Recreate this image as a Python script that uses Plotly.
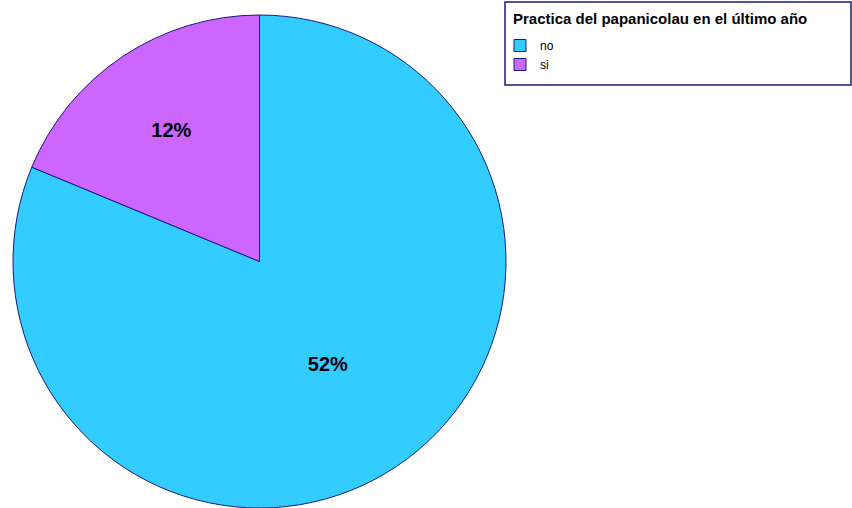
import plotly.graph_objects as go

categories = ["no", "si"]
values = [52, 12]
labels_text = ["52%", "12%"]
colors = ["#33CCFF", "#CC66FF"]
legend_title = "Practica del papanicolau en el último año"

fig = go.Figure(go.Pie(
    labels=categories,
    values=values,
    text=labels_text,
    textinfo="text",
    textposition="inside",
    insidetextorientation="horizontal",
    textfont=dict(family="Liberation Sans, Arial", size=20, color="black", weight="bold"),
    sort=False,
    direction="clockwise",
    rotation=0,
    marker=dict(colors=colors, line=dict(color="#1a1a80", width=1)),
    domain=dict(x=[12/852, 507/852], y=[0, 1-15/508]),
    hoverinfo="label+value",
))

fig.add_shape(type="rect", xref="paper", yref="paper",
              x0=505/852, x1=851/852, y0=1-85/508, y1=1-2/508,
              line=dict(color="#1a1a80", width=1.5), fillcolor="rgba(0,0,0,0)")

fig.add_annotation(text="<b>" + legend_title + "</b>", xref="paper", yref="paper",
                   x=511/852, y=1-18/508, xanchor="left", yanchor="middle",
                   showarrow=False, font=dict(size=15, color="black"))

fig.update_layout(
    width=852, height=508,
    margin=dict(l=0, r=0, t=0, b=0),
    paper_bgcolor="white",
    plot_bgcolor="white",
    font=dict(family="Liberation Sans, Arial", color="black"),
    legend=dict(
        x=500/852, y=1-31/508, xanchor="left", yanchor="top",
        font=dict(size=12),
        bgcolor="rgba(0,0,0,0)",
        borderwidth=0,
        itemwidth=30,
        tracegroupgap=0,
    ),
)

fig.write_html("out.html", config={"displayModeBar": False})

with open("out.html", "r", encoding="utf-8") as f:
    html = f.read()
html = html.replace("<head>", "<head><style>html,body{margin:0;padding:0;overflow:hidden;}</style>", 1)
with open("out.html", "w", encoding="utf-8") as f:
    f.write(html)
